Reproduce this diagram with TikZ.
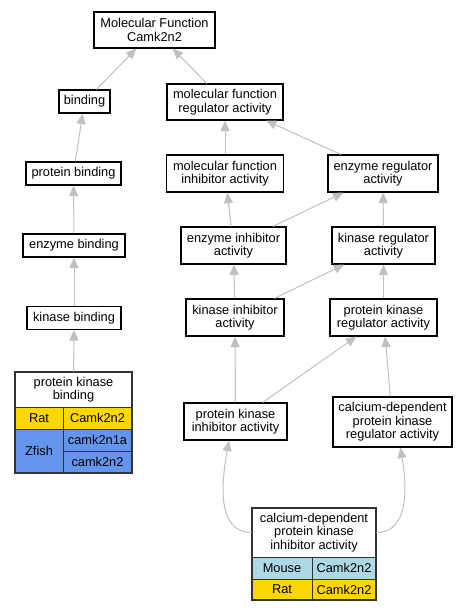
\documentclass[tikz,border=0pt]{standalone}
\usepackage{fontspec}
\setmainfont{Liberation Sans}
\usetikzlibrary{arrows.meta}
\definecolor{edgegray}{HTML}{C0C0C0}
\definecolor{ratgold}{HTML}{FFD700}
\definecolor{fishblue}{HTML}{6495ED}
\definecolor{mouseblue}{HTML}{ADD8E6}
\definecolor{tableline}{HTML}{333333}
\newcommand\gvfont{\fontsize{12.8}{13.4}\selectfont}
\tikzset{
  box/.style={draw=black, line width=1.1pt, fill=white, inner sep=0pt, align=center, font=\gvfont},
  cell/.style={draw=tableline, line width=0.9pt, inner sep=0pt, align=center, font=\gvfont},
  outer/.style={draw=tableline, line width=1.4pt, inner sep=0pt},
  edge/.style={draw=edgegray, line width=1pt, -{Triangle[length=10.5pt,width=9pt]}}
}
\begin{document}
\begin{tikzpicture}[x=1pt,y=1pt]
\useasboundingbox (0,0) rectangle (467,-611);
% plain boxes
\node[box, minimum width=121, minimum height=36] (mf) at (154.5,-30) {Molecular Function\\Camk2n2};
\node[box, minimum width=51, minimum height=23] (binding) at (84.5,-101.5) {binding};
\node[box, minimum width=116, minimum height=36] (mfreg) at (225,-102) {molecular function\\regulator activity};
\node[box, minimum width=95, minimum height=23] (pbind) at (73.5,-173.5) {protein binding};
\node[box, minimum width=117, minimum height=37] (mfinh) at (225,-173.5) {molecular function\\inhibitor activity};
\node[box, minimum width=110, minimum height=37] (enzreg) at (383,-173.5) {enzyme regulator\\activity};
\node[box, minimum width=102, minimum height=23] (ebind) at (74,-245.5) {enzyme binding};
\node[box, minimum width=105, minimum height=37] (enzinh) at (233.5,-245.5) {enzyme inhibitor\\activity};
\node[box, minimum width=103, minimum height=37] (kinreg) at (383.5,-245.5) {kinase regulator\\activity};
\node[box, minimum width=94, minimum height=23] (kbind) at (74,-318) {kinase binding};
\node[box, minimum width=98, minimum height=37] (kininh) at (235,-317.5) {kinase inhibitor\\activity};
\node[box, minimum width=107, minimum height=37] (pkreg) at (383.5,-317.5) {protein kinase\\regulator activity};
\node[box, minimum width=103, minimum height=37] (pkinh) at (235.5,-421.5) {protein kinase\\inhibitor activity};
\node[box, minimum width=119, minimum height=50] (capkreg) at (392.5,-422) {calcium-dependent\\protein kinase\\regulator activity};
% table: protein kinase binding
\node[cell, fill=white, minimum width=117, minimum height=35] (pkbh) at (73.5,-389.5) {protein kinase\\binding};
\node[cell, fill=ratgold, minimum width=48, minimum height=22] (pkbrat) at (39,-418) {Rat};
\node[cell, fill=ratgold, minimum width=69, minimum height=22] (pkbratg) at (97.5,-418) {Camk2n2};
\node[cell, fill=fishblue, minimum width=48, minimum height=44] (pkbfish) at (39,-451) {Zfish};
\node[cell, fill=fishblue, minimum width=69, minimum height=22] (pkbfishg1) at (97.5,-440) {camk2n1a};
\node[cell, fill=fishblue, minimum width=69, minimum height=22] (pkbfishg2) at (97.5,-462) {camk2n2};
\node[outer, minimum width=117, minimum height=101] (pkb) at (73.5,-422.5) {};
% table: calcium-dependent protein kinase inhibitor activity
\node[cell, fill=white, minimum width=124, minimum height=49] (capkh) at (314,-532.5) {calcium-dependent\\protein kinase\\inhibitor activity};
\node[cell, fill=mouseblue, minimum width=60, minimum height=22] (capkmouse) at (282,-568) {Mouse};
\node[cell, fill=mouseblue, minimum width=64, minimum height=22] (capkmouseg) at (344,-568) {Camk2n2};
\node[cell, fill=ratgold, minimum width=60, minimum height=21] (capkrat) at (282,-589.5) {Rat};
\node[cell, fill=ratgold, minimum width=64, minimum height=21] (capkratg) at (344,-589.5) {Camk2n2};
\node[outer, minimum width=124, minimum height=92] (capk) at (314,-554) {};
% edges
\draw[edge] (binding) -- (mf);
\draw[edge] (mfreg) -- (mf);
\draw[edge] (pbind) -- (binding);
\draw[edge] (mfinh) -- (mfreg);
\draw[edge] (enzreg) -- (mfreg);
\draw[edge] (ebind) -- (pbind);
\draw[edge] (enzinh) -- (mfinh);
\draw[edge] (enzinh) -- (enzreg);
\draw[edge] (kinreg) -- (enzreg);
\draw[edge] (kbind) -- (ebind);
\draw[edge] (kininh) -- (enzinh);
\draw[edge] (kininh) -- (kinreg);
\draw[edge] (pkreg) -- (kinreg);
\draw[edge] (pkbh) -- (kbind);
\draw[edge] (pkinh) -- (kininh);
\draw[edge] (pkinh) -- (pkreg);
\draw[edge] (capkreg) -- (pkreg);
\draw[edge] (capkh.west) to[out=180,in=-100] (pkinh.-109);
\draw[edge] (capkh.east) to[out=0,in=-80] (capkreg.-73);
\end{tikzpicture}
\end{document}
